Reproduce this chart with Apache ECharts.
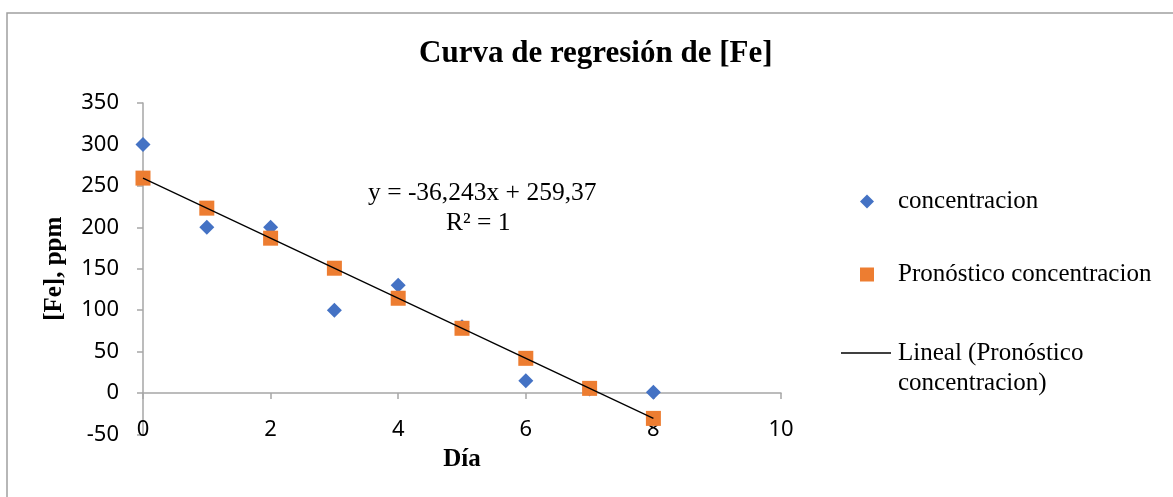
<!DOCTYPE html>
<html>
<head>
<meta charset="utf-8">
<script src="https://cdn.jsdelivr.net/npm/echarts@6/dist/echarts.min.js"></script>
<style>
html,body{margin:0;padding:0;background:#fff;}
#chart{width:1173px;height:497px;}
</style>
</head>
<body>
<div id="chart"></div>
<script>
// ---- data ----
const dias = [0, 1, 2, 3, 4, 5, 6, 7, 8];
const concentracion = [300, 200, 200, 100, 130, 80, 15, 5, 1];
const pronostico = [259.37, 223.13, 186.88, 150.64, 114.40, 78.16, 41.91, 5.67, -30.57];
const trendX = [0, 8];
const trendY = [259.37, -30.57];
const xTicks = [0, 2, 4, 6, 8, 10];
const yTicks = [-50, 0, 50, 100, 150, 200, 250, 300, 350];
const titleText = 'Curva de regresión de [Fe]';
const seriesNames = ['concentracion', 'Pronóstico concentracion', 'Lineal (Pronóstico\nconcentracion)'];
const equationLines = ['y = -36,243x + 259,37', 'R² = 1'];

const serif = '"Liberation Serif", "DejaVu Serif", serif';
const sans = '"Noto Sans", "DejaVu Sans", sans-serif';
const axisGray = '#a6a6a6';

const chart = echarts.init(document.getElementById('chart'), null, {renderer: 'canvas'});

const pairs = (xs, ys) => xs.map((x, i) => [x, ys[i]]);

const legendText = {fontFamily: serif, fontSize: 25, color: '#000'};

chart.setOption({
  animation: false,
  backgroundColor: '#fff',
  title: {
    text: titleText,
    left: 414, top: 33,
    textStyle: {fontFamily: serif, fontSize: 31, fontWeight: 'bold', color: '#000'}
  },
  grid: {left: 143, top: 103, right: 392, bottom: 62.5, containLabel: false},
  legend: [
    {
      data: [{name: seriesNames[0], icon: 'diamond'}],
      left: 855, top: 184, itemWidth: 14, itemHeight: 14,
      textStyle: Object.assign({padding: [0, 0, 0, 19]}, legendText),
      selectedMode: false
    },
    {
      data: [{name: seriesNames[1], icon: 'rect'}],
      left: 855, top: 257, itemWidth: 14, itemHeight: 14,
      textStyle: Object.assign({padding: [0, 0, 0, 19]}, legendText),
      selectedMode: false
    },
    {
      data: [{name: seriesNames[2], icon: 'rect'}],
      left: 836, top: 303, itemWidth: 50, itemHeight: 1.5,
      formatter: n => ' \n' + n,
      textStyle: Object.assign({padding: [0, 0, 0, 2], lineHeight: 30}, legendText),
      selectedMode: false
    }
  ],
  xAxis: [
    {
      type: 'value', min: xTicks[0], max: xTicks[xTicks.length - 1], interval: xTicks[1] - xTicks[0],
      position: 'bottom',
      axisLine: {show: true, onZero: true, lineStyle: {color: axisGray, width: 1.5}},
      axisTick: {show: true, length: 6, lineStyle: {color: axisGray, width: 1.5}},
      axisLabel: {show: false},
      splitLine: {show: false}
    },
    {
      type: 'value', min: xTicks[0], max: xTicks[xTicks.length - 1], interval: xTicks[1] - xTicks[0],
      position: 'bottom',
      axisLine: {show: false, onZero: false},
      axisTick: {show: false},
      axisLabel: {show: true, margin: -16, fontFamily: sans, fontSize: 22, color: '#000',
        formatter: v => String(v)},
      splitLine: {show: false},
      name: 'Día', nameLocation: 'middle', nameGap: 13,
      nameTextStyle: {fontFamily: serif, fontSize: 25, fontWeight: 'bold', color: '#000'}
    }
  ],
  yAxis: {
    type: 'value', min: yTicks[0], max: yTicks[yTicks.length - 1], interval: yTicks[1] - yTicks[0],
    axisLine: {show: true, onZero: false, lineStyle: {color: axisGray, width: 1.5}},
    axisTick: {show: true, length: 6, lineStyle: {color: axisGray, width: 1.5}},
    axisLabel: {margin: 24, fontFamily: sans, fontSize: 22, color: '#000'},
    splitLine: {show: false},
    name: '[Fe], ppm', nameLocation: 'middle', nameRotate: 90, nameGap: 76,
    nameTextStyle: {fontFamily: serif, fontSize: 25, fontWeight: 'bold', color: '#000'}
  },
  series: [
    {
      name: seriesNames[0], type: 'scatter', xAxisIndex: 0,
      data: pairs(dias, concentracion),
      symbol: 'diamond', symbolSize: 15,
      itemStyle: {color: '#4472c4', opacity: 1}, z: 2
    },
    {
      name: seriesNames[1], type: 'scatter', xAxisIndex: 0,
      data: pairs(dias, pronostico),
      symbol: 'rect', symbolSize: 15,
      itemStyle: {color: '#ed7d31', opacity: 1}, z: 3
    },
    {
      name: seriesNames[2], type: 'line', xAxisIndex: 0,
      data: pairs(trendX, trendY),
      showSymbol: false, symbol: 'none',
      lineStyle: {color: '#000', width: 1.3},
      itemStyle: {color: '#000'}, z: 4
    }
  ],
  graphic: [
    {
      type: 'rect', silent: true, z: -1,
      shape: {x: 7, y: 13, width: 1300, height: 700},
      style: {fill: 'none', stroke: '#a0a0a0', lineWidth: 1.5}
    },
    {
      type: 'text', left: 368, top: 180, silent: true,
      style: {text: equationLines[0], font: '25.5px ' + serif, fill: '#000'}
    },
    {
      type: 'text', left: 446, top: 210, silent: true,
      style: {text: equationLines[1], font: '25.5px ' + serif, fill: '#000'}
    }
  ]
});
</script>
</body>
</html>
